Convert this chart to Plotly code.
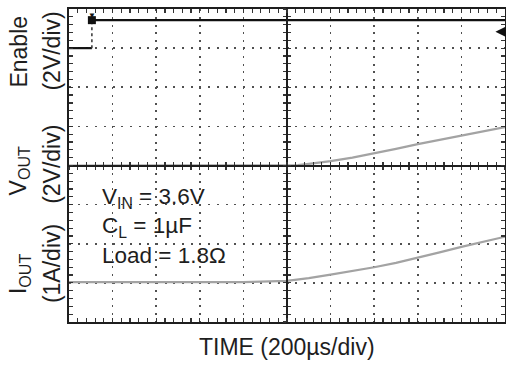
import plotly.graph_objects as go

# ---- data (oscilloscope capture) ----
# time in microseconds, 200 us/div, 10 divisions
t_range = [-1000, 1000]

enable_t = [-1000, -895, -895, 1000]
enable_v = [0.0, 0.0, 1.43, 1.43]          # V, 2V/div, ground 3 div above centre

vout_t = [-1000, 0, 50, 100, 200, 300, 400, 500, 600, 700, 800, 900, 1000]
vout_v = [0.0, 0.0, 0.02, 0.08, 0.22, 0.40, 0.61, 0.85, 1.09, 1.30, 1.51, 1.73, 1.96]  # V, 2V/div

iout_t = [-1000, -200, 0, 100, 200, 300, 400, 500, 600, 700, 800, 900, 1000]
iout_a = [0.02, 0.02, 0.05, 0.12, 0.21, 0.30, 0.40, 0.51, 0.64, 0.78, 0.92, 1.05, 1.18]  # A, 1A/div

trigger_t = -895
trigger_level = 0.84

conditions = ["V<sub>IN</sub> = 3.6V", "C<sub>L</sub> = 1µF", "Load = 1.8Ω"]

# channel vertical ranges (8 divisions each)
enable_range = [-14, 2]
vout_range = [-8, 8]
iout_range = [-1, 7]

FONT = "Liberation Sans, Arial, Helvetica, sans-serif"
INK = "#1e1e1e"
GRID = "#505050"
TRACE_GRAY = "#a3a3a3"

fig = go.Figure()

# Enable channel
fig.add_trace(go.Scatter(x=enable_t[:2], y=enable_v[:2], mode="lines",
                         line=dict(color="#111111", width=2.2), xaxis="x", yaxis="y"))
fig.add_trace(go.Scatter(x=enable_t[1:3], y=enable_v[1:3], mode="lines",
                         line=dict(color="#333333", width=1.5, dash="dot"), xaxis="x", yaxis="y"))
fig.add_trace(go.Scatter(x=enable_t[2:], y=enable_v[2:], mode="lines",
                         line=dict(color="#111111", width=2.4), xaxis="x", yaxis="y"))
# trigger marker
fig.add_trace(go.Scatter(x=[trigger_t], y=[enable_v[-1]], mode="markers",
                         marker=dict(symbol="square", size=8, color="#111111"),
                         cliponaxis=False, xaxis="x", yaxis="y"))

# VOUT channel
fig.add_trace(go.Scatter(x=vout_t, y=vout_v, mode="lines",
                         line=dict(color=TRACE_GRAY, width=2.2), xaxis="x", yaxis="y4"))
# IOUT channel
fig.add_trace(go.Scatter(x=iout_t, y=iout_a, mode="lines",
                         line=dict(color=TRACE_GRAY, width=2.2), xaxis="x", yaxis="y5"))

# dummy traces so that the centre-line axes get drawn
for xa, ya in [("x2", "y"), ("x3", "y"), ("x", "y2"), ("x", "y3")]:
    fig.add_trace(go.Scatter(x=[None], y=[None], xaxis=xa, yaxis=ya, mode="markers",
                             hoverinfo="skip"))

frame = dict(showline=True, linecolor=INK, linewidth=2, mirror="ticks",
             ticks="inside", ticklen=4, tickwidth=1.2, tickcolor="#333333",
             showticklabels=False, zeroline=False, showgrid=True,
             gridcolor=GRID, gridwidth=1.6, automargin=False)

centre = dict(anchor="free", position=0.5, showline=True, linecolor=INK, linewidth=2,
              ticklen=3, tickwidth=1.2, tickcolor="#333333", showticklabels=False,
              showgrid=False, zeroline=False, automargin=False)

fig.update_layout(
    template="none",
    width=506, height=370,
    margin=dict(l=69, r=1, t=9, b=48, autoexpand=False),
    paper_bgcolor="white", plot_bgcolor="white",
    showlegend=False,
    font=dict(family=FONT, color=INK),
    xaxis=dict(range=t_range, tick0=0, dtick=200, griddash="2px,5.8px",
               minor=dict(dtick=40, ticks="inside", ticklen=4, tickwidth=1.2,
                          tickcolor="#333333", showgrid=False),
               **frame),
    yaxis=dict(range=enable_range, tick0=0, dtick=2, griddash="2px,6.7px",
               minor=dict(dtick=0.4, ticks="inside", ticklen=4, tickwidth=1.2,
                          tickcolor="#333333", showgrid=False),
               **frame),
    xaxis2=dict(overlaying="x", range=t_range, tick0=0, dtick=40, ticks="outside",
                side="bottom", **centre),
    xaxis3=dict(overlaying="x", range=t_range, tick0=0, dtick=40, ticks="inside",
                side="bottom", **centre),
    yaxis2=dict(overlaying="y", range=enable_range, tick0=0, dtick=0.4, ticks="outside",
                side="left", **centre),
    yaxis3=dict(overlaying="y", range=enable_range, tick0=0, dtick=0.4, ticks="inside",
                side="left", **centre),
    yaxis4=dict(overlaying="y", range=vout_range, visible=False, automargin=False),
    yaxis5=dict(overlaying="y", range=iout_range, visible=False, automargin=False),
)

ann = []
def side_label(text, y, xshift, size=23):
    ann.append(dict(text=text, xref="paper", yref="paper", x=0, y=y, xshift=xshift,
                    xanchor="center", yanchor="middle", textangle=-90, showarrow=False,
                    font=dict(size=size, family=FONT, color=INK)))

side_label("Enable", 0.864, -50)
side_label("(2V/div)", 0.864, -17)
side_label("V<sub>OUT</sub>", 0.481, -50)
side_label("(2V/div)", 0.502, -17)
side_label("I<sub>OUT</sub>", 0.153, -50)
side_label("(1A/div)", 0.185, -17)

# test conditions block
ann.append(dict(text="<br>".join(conditions), xref="paper", yref="paper", x=0,
                y=(322 - 226) / 313, xshift=31, xanchor="left", yanchor="middle",
                align="left", showarrow=False,
                font=dict(size=22.5, family=FONT, color=INK)))

ann.append(dict(text="TIME (200µs/div)", xref="paper", yref="paper", x=0.5, y=0,
                yshift=-25, xanchor="center", yanchor="middle", showarrow=False,
                font=dict(size=23, family=FONT, color=INK)))

# trigger position indicator at top border
ann.append(dict(text="▼", xref="x", yref="paper", x=trigger_t, y=1, xanchor="center",
                yanchor="top", showarrow=False, font=dict(size=8, color="#111111")))
# trigger level arrow at right border
ann.append(dict(text="", xref="paper", yref="y", x=0.978, y=trigger_level,
                ax=10, ay=0, showarrow=True, arrowhead=2, arrowsize=1.2,
                arrowwidth=2, arrowcolor="#111111"))

fig.update_layout(annotations=ann)

fig.write_html("out.html",
               config={"displayModeBar": False, "staticPlot": True},
               post_script="document.body.style.margin='0';document.body.style.padding='0';")
